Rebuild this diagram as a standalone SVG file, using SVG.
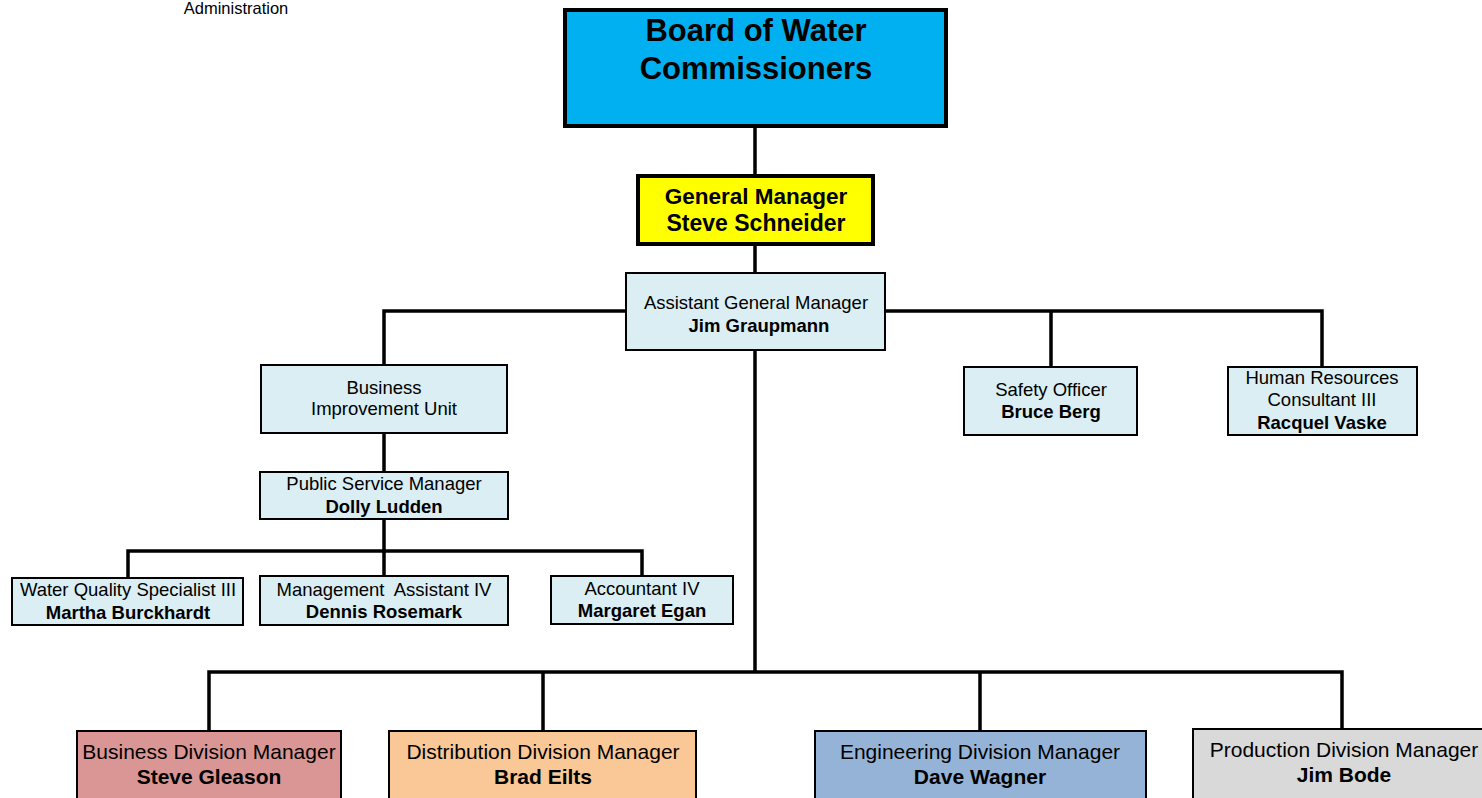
<svg xmlns="http://www.w3.org/2000/svg" width="1482" height="798" viewBox="0 0 1482 798">
<style>
text{font-family:"Liberation Sans",Arial,sans-serif;text-anchor:middle;fill:#000}
.n{font-size:18.5px}
.b{font-size:18.5px;font-weight:bold}
.lb{fill:#DAEEF3;stroke:#000;stroke-width:2}
.bot{stroke:#000;stroke-width:2}
.bn{font-size:21px}
.bb{font-size:21px;font-weight:bold}
.c{fill:none;stroke:#000;stroke-width:3.5}
</style>
<rect width="1482" height="798" fill="#fff"/>
<text x="236" y="14" style="font-size:16.5px">Administration</text>
<g id="connectors">
<path class="c" d="M755 126V176M755 244V273"/>
<path class="c" d="M626 311H384V365M885 311H1322V367M1051 311V367"/>
<path class="c" d="M384 433V472M384 519V577M128 578V551H642V576"/>
<path class="c" d="M755 350V672M209 731V672H1342V729M543 672V731M980 672V731"/>
</g>
<g id="board">
<rect x="565" y="10" width="381" height="116" fill="#00B0F0" stroke="#000" stroke-width="4"/>
<text x="756" y="41" style="font-size:31px;font-weight:bold">Board of Water</text>
<text x="756" y="79" style="font-size:31px;font-weight:bold">Commissioners</text>
</g>
<g id="gm">
<rect x="638" y="176" width="235" height="68" fill="#FFFF00" stroke="#000" stroke-width="4"/>
<text x="756" y="204" style="font-size:22.5px;font-weight:bold">General Manager</text>
<text x="756" y="231" style="font-size:23px;font-weight:bold">Steve Schneider</text>
</g>
<g id="agm">
<rect class="lb" x="626" y="273" width="259" height="77"/>
<text class="n" x="756" y="309">Assistant General Manager</text>
<text class="b" x="759" y="332">Jim Graupmann</text>
</g>
<g id="biu">
<rect class="lb" x="261" y="365" width="246" height="68"/>
<text class="n" x="384" y="394">Business</text>
<text class="n" x="384" y="415">Improvement Unit</text>
</g>
<g id="psm">
<rect class="lb" x="260" y="472" width="248" height="47"/>
<text class="n" x="384" y="490">Public Service Manager</text>
<text class="b" x="384" y="513">Dolly Ludden</text>
</g>
<g id="wqs">
<rect class="lb" x="12" y="578" width="231" height="47"/>
<text class="n" x="128" y="596">Water Quality Specialist III</text>
<text class="b" x="128" y="619">Martha Burckhardt</text>
</g>
<g id="ma">
<rect class="lb" x="260" y="576" width="248" height="49"/>
<text class="n" x="384" y="596" xml:space="preserve">Management  Assistant IV</text>
<text class="b" x="384" y="618">Dennis Rosemark</text>
</g>
<g id="acc">
<rect class="lb" x="551" y="576" width="182" height="48"/>
<text class="n" x="642" y="595">Accountant IV</text>
<text class="b" x="642" y="617">Margaret Egan</text>
</g>
<g id="safety">
<rect class="lb" x="964" y="367" width="173" height="68"/>
<text class="n" x="1051" y="396">Safety Officer</text>
<text class="b" x="1051" y="418">Bruce Berg</text>
</g>
<g id="hr">
<rect class="lb" x="1228" y="367" width="189" height="68"/>
<text class="n" x="1322" y="384">Human Resources</text>
<text class="n" x="1322" y="406">Consultant III</text>
<text class="b" x="1322" y="429">Racquel Vaske</text>
</g>
<g id="business">
<rect class="bot" x="77" y="731" width="264" height="75" fill="#D99694"/>
<text class="bn" x="209" y="759">Business Division Manager</text>
<text class="bb" x="209" y="784">Steve Gleason</text>
</g>
<g id="distribution">
<rect class="bot" x="389" y="731" width="307" height="75" fill="#FAC896"/>
<text class="bn" x="543" y="759">Distribution Division Manager</text>
<text class="bb" x="543" y="784">Brad Eilts</text>
</g>
<g id="engineering">
<rect class="bot" x="815" y="731" width="331" height="75" fill="#95B3D7"/>
<text class="bn" x="980" y="759">Engineering Division Manager</text>
<text class="bb" x="980" y="784">Dave Wagner</text>
</g>
<g id="production">
<rect class="bot" x="1193" y="729" width="300" height="77" fill="#D9D9D9"/>
<text class="bn" x="1344" y="757">Production Division Manager</text>
<text class="bb" x="1344" y="782">Jim Bode</text>
</g>
</svg>
